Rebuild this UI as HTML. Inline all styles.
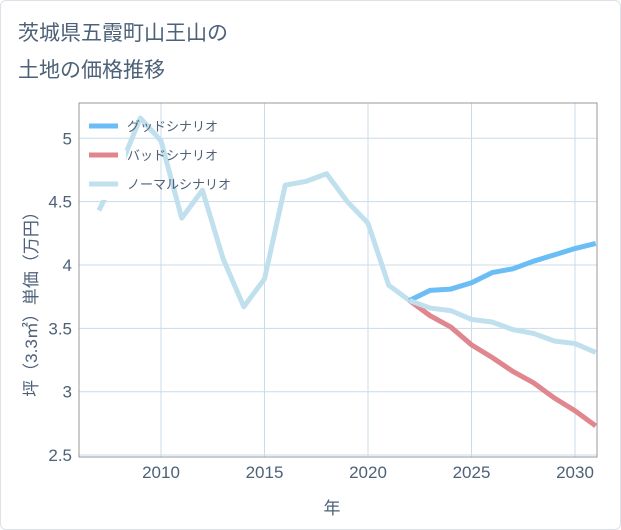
<!DOCTYPE html>
<html><head><meta charset="utf-8"><style>
body{margin:0;background:#fff;font-family:"Liberation Sans","Noto Sans CJK JP",sans-serif}
#wrap{position:relative;width:619px;height:528px;border:1px solid #dde2e8;border-radius:6px;overflow:hidden}
</style></head><body>
<div id="wrap">
<svg id="chart" width="621" height="530" style="position:absolute;left:-1px;top:-1px">
<text x="18" y="40" font-size="21" fill="#4d6178">茨城県五霞町山王山の</text>
<text x="18" y="77" font-size="21" fill="#4d6178">土地の価格推移</text>
</svg>
</div>
<script>
const years=[2007,2008,2009,2010,2011,2012,2013,2014,2015,2016,2017,2018,2019,2020,2021,2022];
const normalHist=[4.43,4.76,5.16,4.98,4.37,4.59,4.05,3.67,3.89,4.63,4.66,4.72,4.5,4.33,3.84,3.72];
const futureYears=[2022,2023,2024,2025,2026,2027,2028,2029,2030,2031];
const goodVals=[3.72,3.80,3.81,3.86,3.94,3.97,4.03,4.08,4.13,4.17];
const badVals=[3.72,3.60,3.51,3.37,3.27,3.16,3.07,2.95,2.85,2.73];
const normalVals=[3.72,3.66,3.64,3.57,3.55,3.49,3.46,3.40,3.38,3.31];
const xTicks=[2010,2015,2020,2025,2030];
const yTicks=[2.5,3,3.5,4,4.5,5];
const L=79,R=597,T=103,B=457;
const x=y=>161+(y-2010)*20.7;
const yy=v=>265-(v-4)*126.7;
const svg=document.getElementById('chart');
const NS='http://www.w3.org/2000/svg';
function mk(t,a){const e=document.createElementNS(NS,t);for(const k in a)e.setAttribute(k,a[k]);svg.appendChild(e);return e;}
xTicks.forEach(t=>{
const g=mk('line',{x1:x(t),x2:x(t),y1:T,y2:B,stroke:'#c8dcea','stroke-width':1});


const l=mk('text',{x:x(t),y:B+21,'font-size':17,fill:'#4d6178','text-anchor':'middle'});l.textContent=t;


});
yTicks.forEach(t=>{
const g=mk('line',{x1:L,x2:R,y1:yy(t),y2:yy(t),stroke:'#c8dcea','stroke-width':1});


const l=mk('text',{x:L-7,y:yy(t)+6,'font-size':17,fill:'#4d6178','text-anchor':'end'});l.textContent=t;


});
const frame=mk('rect',{x:L,y:T,width:R-L,height:B-T,fill:'none',stroke:'#999','stroke-width':1});


const cp=mk('clipPath',{id:'cp'});const cr=document.createElementNS(NS,'rect');
cr.setAttribute('x',L);cr.setAttribute('y',T);cr.setAttribute('width',R-L);cr.setAttribute('height',B-T);cp.appendChild(cr);
function line(xs,vs,c,name){const p=mk('polyline',{points:xs.map((v,i)=>x(v)+','+yy(vs[i])).join(' '),fill:'none',stroke:c,'stroke-width':5,'stroke-linejoin':'round','clip-path':'url(#cp)'});

}
line(years,normalHist,'#c0e0ee','normal-history-line');
line(futureYears,badVals,'#e0868e','bad-scenario-line');
line(futureYears,goodVals,'#6bbdf5','good-scenario-line');
line(futureYears,normalVals,'#c0e0ee','normal-scenario-line');
const lb=mk('rect',{x:84,y:150,width:42,height:50,fill:'#fff'});


[['グッドシナリオ','#6bbdf5'],['バッドシナリオ','#e0868e'],['ノーマルシナリオ','#c0e0ee']].forEach((d,i)=>{
const ly=126+i*29;
const s=mk('line',{x1:89,x2:118,y1:ly,y2:ly,stroke:d[1],'stroke-width':5});


const t=mk('text',{x:127,y:ly+5,'font-size':13,fill:'#4d6178'});t.textContent=d[0];


});
const xt=mk('text',{x:332,y:514,'font-size':17,fill:'#4d6178','text-anchor':'middle'});xt.textContent='年';


const yt=mk('text',{x:0,y:0,'font-size':17,fill:'#4d6178','text-anchor':'middle',transform:'translate(37,300) rotate(-90)'});yt.textContent='坪（3.3㎡）単価（万円）';


</script>
</body></html>
